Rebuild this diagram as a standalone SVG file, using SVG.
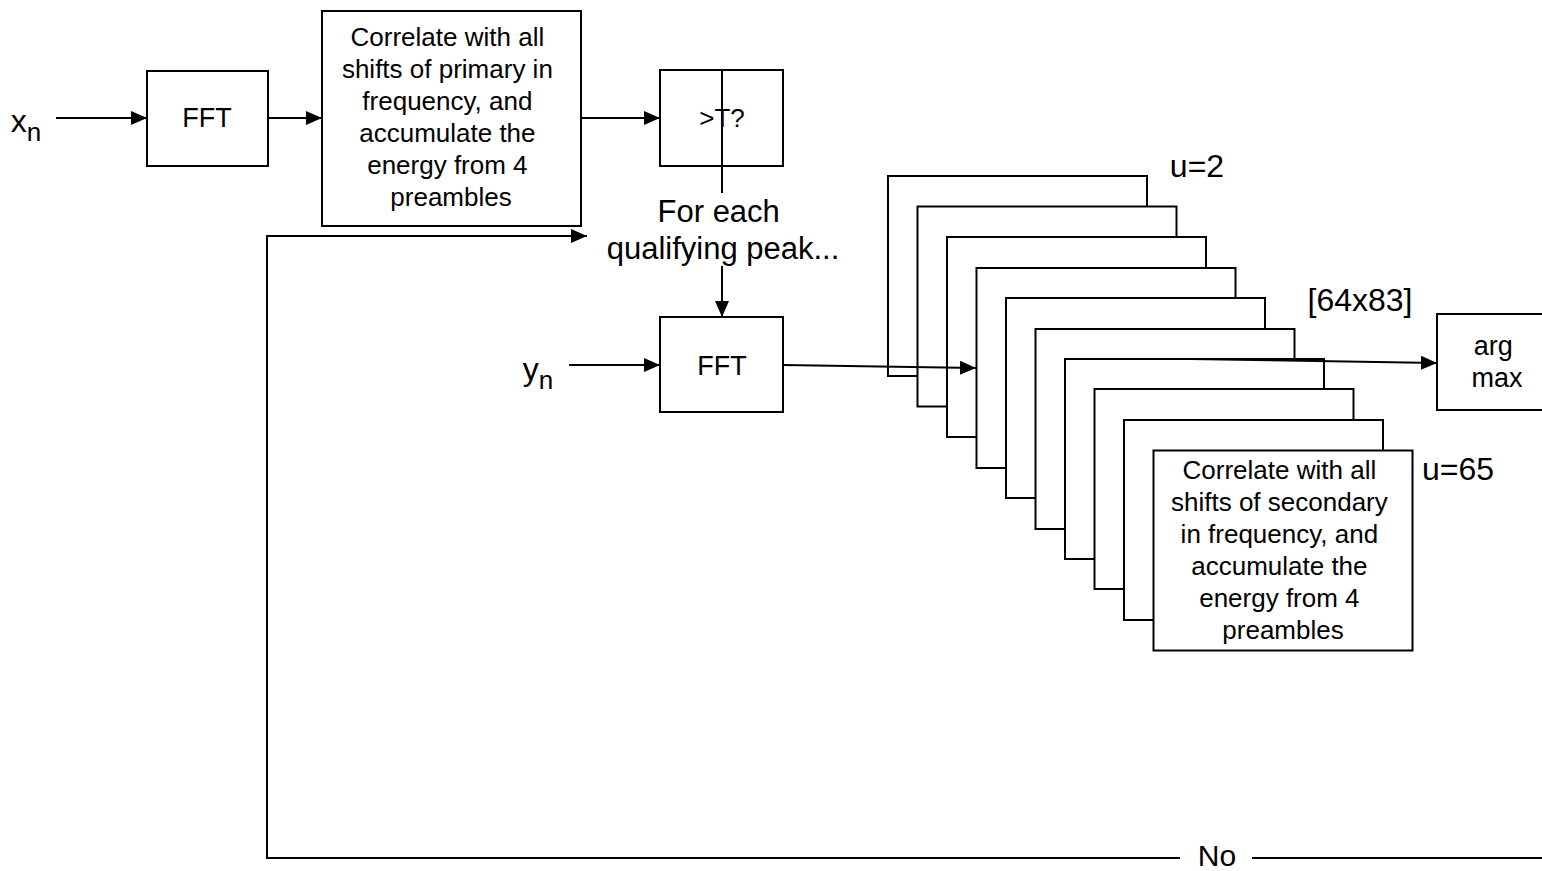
<svg xmlns="http://www.w3.org/2000/svg" width="1542" height="871" viewBox="0 0 1542 871">
  <defs>
    <marker id="arrow" viewBox="0 0 16 14" refX="16" refY="7" markerWidth="16" markerHeight="14" markerUnits="userSpaceOnUse" orient="auto">
      <path d="M0,0 L16,7 L0,14 Z" fill="#000"/>
    </marker>
    <style>
      .box { fill: #fff; stroke: #000; stroke-width: 2; }
      .wire { fill: none; stroke: #000; stroke-width: 2; }
      .arr { marker-end: url(#arrow); }
      text { font-family: "Liberation Sans", Arial, sans-serif; fill: #000; text-anchor: middle; }
      .body { font-size: 26px; }
      .fft { font-size: 27px; }
      .peak { font-size: 31px; }
      .lbl { font-size: 32px; }
    </style>
  </defs>
  <rect width="1542" height="871" fill="#fff"/>

  <!-- input signals -->
  <g id="xn-label">
    <text x="26" y="132" class="lbl">x<tspan font-size="26" dy="9">n</tspan></text>
  </g>
  <g id="yn-label">
    <text x="538" y="380" class="lbl">y<tspan font-size="26" dy="9">n</tspan></text>
  </g>

  <g id="fft1">
    <rect class="box" x="147" y="71" width="121" height="95"/>
    <text x="207" y="127" class="fft">FFT</text>
  </g>

  <g id="corr-primary">
    <rect class="box" x="322" y="11" width="259" height="215"/>
    <text class="body">
      <tspan x="451" y="46">Correlate with all</tspan>
      <tspan x="451" y="78">shifts of primary in</tspan>
      <tspan x="451" y="110">frequency, and</tspan>
      <tspan x="451" y="142">accumulate the</tspan>
      <tspan x="451" y="174">energy from 4</tspan>
      <tspan x="451" y="206">preambles</tspan>
    </text>
  </g>

  <g id="threshold">
    <rect class="box" x="660" y="70" width="123" height="96"/>
    <text x="722" y="127" class="body">&gt;T?</text>
  </g>

  <g id="peak-label">
    <text class="peak">
      <tspan x="723" y="222">For each</tspan>
      <tspan x="723" y="259">qualifying peak...</tspan>
    </text>
  </g>

  <g id="fft2">
    <rect class="box" x="660" y="317" width="123" height="95"/>
    <text x="722" y="375" class="fft">FFT</text>
  </g>

  <!-- stack of secondary correlators, u=2 at the back to u=65 in front -->
  <g id="corr-secondary">
    <rect class="box" x="888" y="176" width="259" height="200"/>
    <rect class="box" x="917.5" y="206.5" width="259" height="200"/>
    <rect class="box" x="947" y="237" width="259" height="200"/>
  </g>

  <g id="connectors">
    <line class="wire arr" x1="56" y1="118" x2="147" y2="118"/>
    <line class="wire arr" x1="268" y1="118" x2="322" y2="118"/>
    <line class="wire arr" x1="581" y1="118" x2="660" y2="118"/>
    <line class="wire" x1="722" y1="70" x2="722" y2="193"/>
    <line class="wire arr" x1="722" y1="266" x2="722" y2="317"/>
    <line class="wire arr" x1="569" y1="365" x2="660" y2="365"/>
    <line class="wire arr" x1="783" y1="365" x2="976" y2="368"/>
    <!-- "No" feedback path back to the primary correlator -->
    <polyline class="wire arr" points="1180,858 267,858 267,236 587,236"/>
    <line class="wire" x1="1252" y1="858" x2="1542" y2="858"/>
  </g>

  <g id="corr-secondary-front">
    <rect class="box" x="976.5" y="268" width="259" height="200"/>
    <rect class="box" x="1006" y="298" width="259" height="200"/>
    <rect class="box" x="1035.5" y="329" width="259" height="200"/>
    <rect class="box" x="1065" y="359" width="259" height="200"/>
    <rect class="box" x="1094.5" y="389" width="259" height="200"/>
    <rect class="box" x="1124" y="420" width="259" height="200"/>
    <rect class="box" x="1153.5" y="450.5" width="259" height="200"/>
    <text class="body">
      <tspan x="1283" y="479">Correlate with all</tspan>
      <tspan x="1283" y="511">shifts of secondary</tspan>
      <tspan x="1283" y="543">in frequency, and</tspan>
      <tspan x="1283" y="575">accumulate the</tspan>
      <tspan x="1283" y="607">energy from 4</tspan>
      <tspan x="1283" y="639">preambles</tspan>
    </text>
  </g>

  <g id="connectors-out">
    <line class="wire arr" x1="1190" y1="359" x2="1437" y2="363"/>
  </g>

  <g id="argmax">
    <rect class="box" x="1437" y="314" width="130" height="96"/>
    <text class="fft">
      <tspan x="1497" y="355">arg</tspan>
      <tspan x="1497" y="387">max</tspan>
    </text>
  </g>

  <g id="labels">
    <text x="1197" y="177" class="lbl">u=2</text>
    <text x="1360" y="311" class="lbl">[64x83]</text>
    <text x="1458" y="480" class="lbl">u=65</text>
    <text x="1217" y="866" font-size="30">No</text>
  </g>
</svg>
